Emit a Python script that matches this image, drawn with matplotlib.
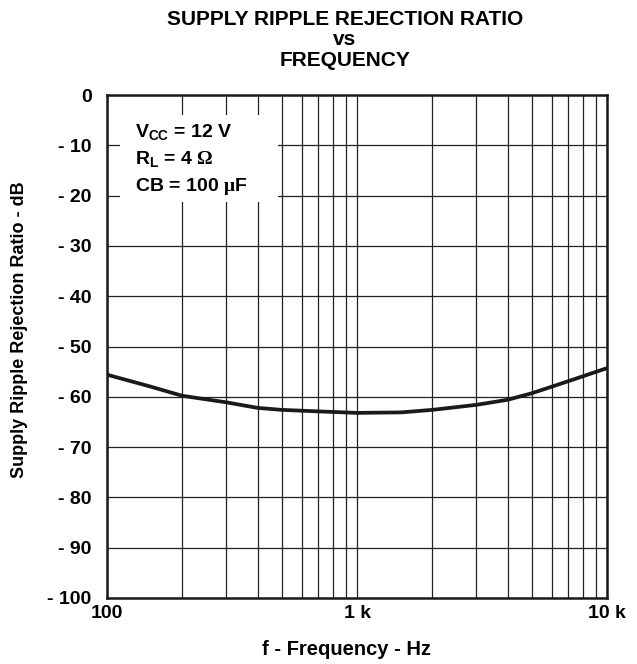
import matplotlib
matplotlib.use("Agg")
import matplotlib.pyplot as plt
from matplotlib.patches import Rectangle
import numpy as np

freq_hz = [100, 150, 200, 300, 400, 500, 700, 1000, 1500, 2000, 3000, 4000, 5000, 7000, 10000]
ripple_db = [-55.6, -58.0, -59.8, -61.1, -62.2, -62.6, -62.9, -63.2, -63.1, -62.6, -61.6, -60.6, -59.3, -56.9, -54.3]

y_ticks = [0, -10, -20, -30, -40, -50, -60, -70, -80, -90, -100]
y_tick_labels = ["0", "- 10", "- 20", "- 30", "- 40", "- 50", "- 60", "- 70", "- 80", "- 90", "- 100"]
x_ticks = [100, 1000, 10000]
x_tick_labels = ["100", "1 k", "10 k"]

plt.rcParams['font.family'] = ['Liberation Sans', 'DejaVu Sans']
plt.rcParams['font.weight'] = 'bold'
plt.rcParams['mathtext.fontset'] = 'custom'
plt.rcParams['mathtext.rm'] = 'Liberation Sans:bold'
plt.rcParams['mathtext.it'] = 'Liberation Sans:bold'
plt.rcParams['mathtext.bf'] = 'Liberation Sans:bold'
plt.rcParams['mathtext.sf'] = 'Liberation Serif'

W, H = 637, 664
fig = plt.figure(figsize=(W/100, H/100), dpi=100)
ax = fig.add_axes([107/W, 1-598/H, 500/W, 503/H])

ax.plot(freq_hz, ripple_db, color='#1a1a1a', lw=2.7, zorder=3)

ax.set_xscale('log')
ax.set_xlim(100, 10000)
ax.set_ylim(-100, 0)
ax.set_xticks(x_ticks)
ax.set_xticklabels(x_tick_labels, fontsize=14, fontweight='bold')
ax.set_yticks(y_ticks)
ax.set_yticklabels(y_tick_labels, fontsize=14, fontweight='bold')
ax.xaxis.set_minor_locator(matplotlib.ticker.LogLocator(base=10, subs=np.arange(2, 10)))
ax.xaxis.set_minor_formatter(matplotlib.ticker.NullFormatter())
ax.tick_params(which='both', length=0)
ax.tick_params(axis='y', pad=11)
ax.tick_params(axis='x', pad=5)
ax.grid(True, which='both', axis='x', color='#222222', lw=0.9, zorder=1)
ax.grid(True, which='major', axis='y', color='#222222', lw=0.9, zorder=1)
ax.set_axisbelow(True)
for s in ax.spines.values():
    s.set_linewidth(1.8)
    s.set_color('#1a1a1a')
    s.set_zorder(4)

# axis labels
fig.text(346/W, 1-655/H, "f - Frequency - Hz", ha='center', va='baseline', fontsize=14.5, fontweight='bold')
fig.text(20/W, 1-330/H, "Supply Ripple Rejection Ratio - dB", ha='center', va='center', rotation=90,
         fontsize=13, fontweight='bold')

# title
fig.text(345/W, 1-25/H, "SUPPLY RIPPLE REJECTION RATIO", ha='center', va='baseline', fontsize=15, fontweight='bold')
fig.text(345/W, 1-45/H, "vs", ha='center', va='baseline', fontsize=15, fontweight='bold')
fig.text(345/W, 1-66/H, "FREQUENCY", ha='center', va='baseline', fontsize=15, fontweight='bold')

# white box covering grid, with conditions
ax.add_patch(Rectangle((120/W, 1-202/H), 158/W, 87/H, transform=fig.transFigure,
                       facecolor='white', edgecolor='none', zorder=2))
fig.text(135/W, 1-137/H, r"$V_{CC}$ = 12 V", ha='left', va='baseline', fontsize=14, fontweight='bold', zorder=5)
fig.text(135/W, 1-164/H, r"$R_L$ = 4 $\mathsf{\Omega}$", ha='left', va='baseline', fontsize=14, fontweight='bold', zorder=5)
fig.text(135/W, 1-191/H, r"CB = 100 $\mathsf{\mu}$F", ha='left', va='baseline', fontsize=14, fontweight='bold', zorder=5)

fig.savefig("out.png", dpi=100)
